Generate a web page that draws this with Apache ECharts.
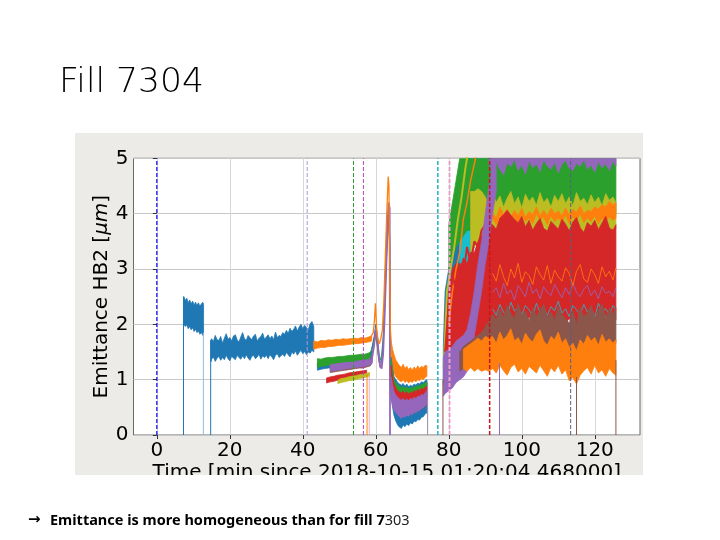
<!DOCTYPE html>
<html><head><meta charset="utf-8">
<script src="https://cdn.jsdelivr.net/npm/echarts@6/dist/echarts.min.js"></script>
<style>
html,body{margin:0;padding:0;background:#fff;}
#wrap{position:relative;width:720px;height:540px;overflow:hidden;}
#beige{position:absolute;left:75px;top:133px;width:568px;height:342px;background:#EDEBE7;}
#chart{position:absolute;left:0;top:0;width:720px;height:540px;}
</style></head><body>
<div id="wrap"><div id="beige"></div><div id="chart"></div></div>
<script>
// ---------- tick labels ----------
const xTicks = [0, 20, 40, 60, 80, 100, 120];
const yTicks = [0, 1, 2, 3, 4, 5];

// ---------- segment A: first blue block ----------
const tA = [7.4,7.8,8.2,8.6,9.0,9.4,9.8,10.2,10.6,11.0,11.4,11.8,12.2,12.6,12.8];
const blueA_hi = [2.50,2.43,2.47,2.39,2.44,2.37,2.42,2.35,2.40,2.34,2.39,2.32,2.37,2.40,2.35];
const blueA_lo = [2.00,1.96,1.99,1.92,1.96,1.90,1.94,1.87,1.91,1.85,1.88,1.82,1.85,1.80,1.84];

// ---------- segment B: long blue block ----------
const tB = [14.8,15,15.5,16,16.5,17,17.5,18,18.5,19,19.5,20,20.5,21,21.5,22,22.5,23,23.5,24,24.5,25,25.5,26,26.5,27,27.5,28,28.5,29,29.5,30,30.5,31,31.5,32,32.5,33,33.5,34,34.5,35,35.5,36,36.5,37,37.5,38,38.5,39,39.5,40,40.5,41,41.5,42,42.5,43];
const blueB_hi = [1.70,
 1.74,1.69,1.80,1.72,1.71,1.78,1.66,1.75,1.83,1.73,
 1.76,1.70,1.79,1.81,1.72,1.68,1.77,1.85,1.74,1.71,
 1.80,1.76,1.72,1.79,1.82,1.70,1.75,1.78,1.84,1.73,
 1.77,1.81,1.74,1.79,1.72,1.86,1.76,1.80,1.78,1.85,
 1.82,1.89,1.84,1.93,1.87,1.91,1.97,1.88,1.95,2.00,
 1.92,1.98,1.94,1.90,2.01,2.05,1.96];
const blueB_lo = [1.32,
 1.37,1.41,1.33,1.39,1.42,1.35,1.40,1.36,1.44,1.38,
 1.34,1.42,1.39,1.36,1.44,1.40,1.37,1.43,1.38,1.45,
 1.39,1.35,1.42,1.44,1.38,1.41,1.46,1.37,1.43,1.40,
 1.44,1.38,1.45,1.41,1.36,1.44,1.47,1.40,1.43,1.46,
 1.42,1.49,1.45,1.41,1.50,1.46,1.52,1.44,1.49,1.53,
 1.47,1.51,1.45,1.50,1.48,1.53,1.50];

// ---------- segment C: 43 - 59 min ----------
const tO = [43,44,45,46,47,48,49,50,51,52,53,54,55,56,57,58,58.9];
const orangeO_hi = [1.70,1.68,1.71,1.70,1.72,1.71,1.73,1.72,1.74,1.73,1.74,1.75,1.74,1.76,1.75,1.77,1.80];
const orangeO_lo = [1.55,1.57,1.58,1.58,1.60,1.60,1.61,1.62,1.62,1.63,1.64,1.65,1.65,1.66,1.67,1.68,1.70];
const tG = [44,45,46,47,48,49,50,51,52,53,54,55,56,57,58,59];
const green_hi = [1.38,1.37,1.39,1.40,1.40,1.41,1.42,1.42,1.43,1.44,1.44,1.45,1.46,1.46,1.48,1.52];
const green_lo = [1.22,1.24,1.25,1.26,1.27,1.28,1.29,1.30,1.31,1.32,1.33,1.34,1.35,1.36,1.37,1.40];
const teal_hi = [1.30,1.31,1.32,1.33,1.34,1.35,1.36,1.36,1.37,1.38,1.38,1.39,1.40,1.41,1.42,1.45];
const teal_lo = [1.17,1.19,1.20,1.21,1.22,1.23,1.24,1.25,1.26,1.27,1.28,1.29,1.30,1.31,1.32,1.35];
const tP = [47.5,48.5,49.5,50.5,51.5,52.5,53.5,54.5,55.5,56.5,57.5,58.5,59];
const purpleP_hi = [1.27,1.28,1.29,1.30,1.31,1.31,1.32,1.33,1.34,1.35,1.36,1.38,1.45];
const purpleP_lo = [1.15,1.16,1.17,1.18,1.19,1.20,1.21,1.22,1.23,1.23,1.25,1.27,1.32];
const brownP_hi = [1.24,1.25,1.26,1.27,1.28,1.28,1.29,1.30,1.31,1.32,1.33,1.35,1.40];
const brownP_lo = [1.13,1.14,1.15,1.16,1.17,1.18,1.19,1.20,1.21,1.21,1.23,1.25,1.30];
const tR = [46.5,47.5,48.5,49.5,50.5,51.5,52.5,53.5,54.5,55.5,56.5,57.5];
const red_hi = [1.03,1.05,1.06,1.08,1.09,1.10,1.12,1.13,1.14,1.15,1.16,1.17];
const red_lo = [0.94,0.96,0.97,0.99,1.00,1.02,1.03,1.05,1.06,1.08,1.09,1.11];
const tY = [49.6,50.5,51.5,52.5,53.5,54.5,55.5,56.5,57.5,58.3];
const olive_hi = [0.99,1.02,1.03,1.05,1.06,1.07,1.09,1.10,1.11,1.13];
const olive_lo = [0.93,0.95,0.96,0.98,0.99,1.00,1.02,1.03,1.05,1.06];

// ---------- spikes 58 - 64 min ----------
const tS1 = [58.9,59.3,59.6,59.9,60.2,60.6,61.0,61.4,61.8,62.2,62.6,63.0,63.4,63.6,63.8,64.0,64.2];
const orangeSpike = [1.80,1.85,2.05,2.38,1.95,1.72,1.65,1.75,1.90,2.40,3.20,4.00,4.67,4.50,3.20,1.90,1.70];
const tS2 = [58.5,59.0,59.5,60.0,60.4,60.8,61.2,61.6,62.0,62.4,62.8,63.2,63.5,63.8,63.9];
const brownSpike  = [1.35,1.45,1.65,1.80,1.60,1.35,1.22,1.28,1.55,2.20,3.00,3.60,3.90,3.40,1.20];
const greenSpike  = [1.48,1.60,1.75,1.85,1.65,1.40,1.35,1.45,1.75,2.50,3.30,3.95,4.00,3.50,1.30];
const blueSpike   = [1.42,1.55,1.75,2.00,1.80,1.50,1.30,1.35,1.65,2.30,3.10,3.80,4.10,3.60,1.40];
const purpleSpike = [1.30,1.40,1.60,1.90,1.75,1.45,1.25,1.20,1.45,2.10,2.90,3.70,4.20,4.10,0];

// ---------- segment D: 64 - 74 min ----------
const tD = [64.2,64.6,65,65.5,66,66.5,67,67.5,68,68.5,69,69.5,70,70.5,71,71.5,72,72.5,73,73.5,74];
const orangeD_hi = [1.70,1.55,1.45,1.35,1.30,1.25,1.22,1.28,1.20,1.24,1.18,1.22,1.17,1.23,1.19,1.25,1.20,1.24,1.22,1.26,1.25];
const orangeD_lo = [1.35,1.20,1.12,1.05,1.02,0.98,0.96,1.00,0.95,0.98,0.94,0.97,0.95,0.99,0.96,1.00,0.98,1.02,1.00,1.04,1.06];
const blueD_hi = [1.40,1.20,1.05,1.00,0.95,0.92,0.90,0.93,0.88,0.92,0.87,0.90,0.88,0.92,0.90,0.94,0.92,0.96,0.95,0.98,1.00];
const blueD_lo = [0.70,0.50,0.35,0.25,0.18,0.14,0.12,0.18,0.15,0.20,0.17,0.22,0.20,0.25,0.24,0.28,0.27,0.32,0.33,0.38,0.40];
const greenD_hi = [1.35,1.15,1.00,0.95,0.90,0.88,0.85,0.88,0.84,0.87,0.83,0.86,0.84,0.88,0.86,0.90,0.88,0.92,0.91,0.95,0.97];
const greenD_lo = [0.95,0.80,0.70,0.65,0.60,0.58,0.55,0.58,0.56,0.59,0.57,0.60,0.59,0.62,0.61,0.64,0.63,0.66,0.67,0.70,0.72];
const redD_hi = [1.25,1.05,0.92,0.85,0.80,0.78,0.76,0.79,0.75,0.78,0.74,0.77,0.76,0.80,0.78,0.82,0.80,0.84,0.83,0.86,0.88];
const redD_lo = [0.85,0.65,0.52,0.45,0.40,0.36,0.34,0.37,0.35,0.38,0.36,0.39,0.38,0.42,0.41,0.45,0.44,0.48,0.49,0.52,0.55];
const purpleD_hi = [1.05,0.90,0.78,0.72,0.68,0.65,0.63,0.66,0.62,0.65,0.62,0.66,0.64,0.68,0.66,0.70,0.69,0.73,0.72,0.76,0.80];
const purpleD_lo = [0.65,0.52,0.45,0.40,0.36,0.33,0.30,0.34,0.32,0.36,0.34,0.38,0.37,0.41,0.40,0.44,0.44,0.48,0.49,0.53,0.56];

// ---------- segment E: 78.5 - 125.8 min ----------
const tE = [78.5,79,80,81,82,83,84,85,86,87,88,89,90,91,92,93,94,95,96,97,98,99,100,101,102,103,104,105,106,107,108,109,110,111,112,113,114,115,116,117,118,119,120,121,122,123,124,125,125.8];
const blueE_hi = [1.6,2.6,3.0,3.4,3.8,4.4,4.8,5,5,5,5,5,5,5,5];
const blueE_lo = [0.9,1.1,1.4,1.6,2.0,2.2,2.6,2.8,3.2,3.4,3.8,4.0,4.3,4.4,4.5];
const cyanE_hi = [3.9,4.5,5,5,5,5,5,5,5];
const cyanE_lo = [2.7,2.9,3.1,3.4,3.5,3.9,4.2,4.4,4.6];
const greenE_hi = [3.8,4.2,4.6,5,5,5,5,5,5,5,
 5,5,5,5,5,5,5,5,5,5,5,5,5,5,5,5,5,5,5,5,5,5,5,5,5,5,5,5,5,5,5,5,5,5,5,5,5];
const greenE_lo = [3.0,3.2,3.4,3.5,3.6,3.7,3.7,3.75,3.8,3.8,
 3.85,4.0,3.8,4.05,3.9,4.1,3.85,4.0,3.8,4.05,3.9,3.85,4.1,3.9,4.0,3.8,4.05,3.9,4.1,3.85,4.0,3.9,4.1,3.8,4.0,3.9,4.05,3.85,4.0,3.9,4.1,3.85,4.0,3.9,4.1,3.95,4.0];
const purpleTop_lo = [4.90,4.75,4.95,4.80,4.70,4.92,4.85,4.98,4.78,4.88,4.72,4.95,4.83,4.90,4.76,4.97,4.86,4.80,
 4.93,4.74,4.89,4.96,4.82,4.78,4.91,4.85,4.97,4.80,4.88,4.75,4.94,4.83,4.90,4.78,4.95,4.86];
const purpleTop_hi = [5,5,5,5,5,5,5,5,5,5,5,5,5,5,5,5,5,5,5,5,5,5,5,5,5,5,5,5,5,5,5,5,5,5,5,5];
const oliveE_lo = [3.3,3.4,3.5,3.55,
 3.70,3.60,3.75,3.62,3.80,3.65,3.72,3.58,3.78,3.64,3.70,3.60,3.76,3.66,3.72,3.58,3.80,3.62,
 3.70,3.65,3.75,3.60,3.78,3.64,3.70,3.58,3.76,3.66,3.72,3.60,3.78,3.64,3.70,3.62,3.76,3.68,3.72];
const oliveE_hi = [4.4,4.4,4.45,4.4,
 4.30,4.15,4.38,4.20,4.32,4.12,4.28,4.40,4.18,4.30,4.10,4.35,4.22,4.30,4.15,4.38,4.20,4.28,
 4.12,4.33,4.22,4.36,4.18,4.30,4.14,4.38,4.22,4.28,4.16,4.34,4.20,4.30,4.14,4.36,4.24,4.30,4.20];
const orangeMid_lo = [3.92,3.80,3.98,3.86,4.00,3.84,3.94,3.80,3.98,3.86,3.92,3.82,4.00,3.88,3.94,3.80,3.96,3.86,
 3.92,3.84,3.98,3.82,3.94,3.88,4.00,3.84,3.92,3.86,3.96,3.82,3.92,3.86,3.94,3.88,3.92];
const orangeMid_hi = [4.02,3.92,4.12,3.98,4.08,3.94,4.06,3.96,4.10,3.94,4.04,3.98,4.12,3.96,4.06,3.96,4.10,4.00,
 4.05,3.96,4.10,3.98,4.08,4.02,4.14,4.00,4.06,4.04,4.12,4.08,4.16,4.12,4.22,4.15,4.20];
const redE_lo = [1.2,1.4,1.5,1.55,1.55,1.6,1.65,1.7,1.75,1.8,1.85,1.9,2.0,
 2.10,2.02,2.15,2.05,2.18,2.08,2.00,2.12,2.06,1.98,2.14,2.04,2.10,2.16,2.00,2.08,2.12,1.98,
 2.06,2.14,2.02,2.10,2.04,1.96,2.12,2.08,2.00,2.14,2.06,2.02,2.10,2.16,2.04,2.00,2.08];
const redE_hi = [2.2,2.6,3.0,3.1,3.0,3.2,3.1,3.3,3.3,3.5,3.6,3.7,3.8,
 3.80,3.72,3.92,3.98,4.06,3.97,3.90,3.83,3.95,3.76,3.88,3.70,3.82,3.91,3.74,3.68,3.86,3.79,
 3.72,3.90,3.81,3.69,3.85,3.93,3.75,3.66,3.84,3.77,3.88,3.71,3.83,3.95,3.74,3.70,3.80];
const orangeStreak = [2.92,2.78,3.08,2.86,2.70,3.00,2.84,3.10,2.76,2.95,2.88,2.72,3.04,2.90,2.80,3.06,2.74,2.98,
 2.86,2.78,3.02,2.92,2.70,2.96,3.08,2.82,2.76,3.00,2.90,2.74,3.04,2.86,2.96,2.80,3.02];
const purpleStreak = [2.58,2.66,2.48,2.74,2.55,2.62,2.44,2.70,2.60,2.50,2.76,2.56,2.64,2.46,2.68,2.58,2.52,2.72,
 2.60,2.48,2.66,2.54,2.74,2.58,2.50,2.64,2.70,2.52,2.62,2.46,2.68,2.56,2.60,2.50,2.66];
const cyanStreak = [2.28,2.16,2.36,2.22,2.12,2.40,2.24,2.30,2.18,2.34,2.26,2.14,2.38,2.22,2.30,2.16,2.32,2.24,
 2.42,2.20,2.28,2.14,2.34,2.26,2.18,2.36,2.22,2.30,2.12,2.38,2.24,2.28,2.18,2.34,2.26];
const tRise1 = [78.6,79.5,80.5,81.5,82.5,83.5,84.5,85.5];
const oliveRise = [1.2,2.6,3.0,3.4,3.9,4.3,4.8,5.2];
const tRise2 = [79,80,81,82,83,84,85,86,87,88,89,90];
const redRise = [1.5,2.4,2.9,2.6,3.1,2.9,3.4,3.1,3.5,3.4,3.7,3.8];
const tRise3 = [80,81,82,83,84,85,86,87,88];
const orangeRise = [2.0,2.6,3.0,3.3,3.9,4.2,4.6,4.9,5.2];
const purpleDiag_hi = [1.40,1.50,1.55,1.60,1.70,1.75,1.80,1.90,2.20,2.60,3.10,3.50,4.00,4.50,4.90,5.00];
const purpleDiag_lo = [0.70,0.75,0.80,0.85,0.95,1.00,1.05,1.15,1.40,1.80,2.20,2.60,3.10,3.50,4.00,4.40];
const brownE_lo = [1.15,1.20,1.25,1.30,1.35,1.40,1.45,1.50,1.55,
 1.62,1.55,1.68,1.58,1.65,1.56,1.70,1.60,1.66,1.55,1.68,1.58,1.64,1.54,1.68,1.60,1.66,1.56,
 1.70,1.58,1.64,1.52,1.60,1.50,1.62,1.58,1.66,1.55,1.68,1.60,1.65,1.56,1.70,1.60,1.66];
const brownE_hi = [1.50,1.60,1.65,1.70,1.75,1.80,1.85,1.95,2.05,
 2.18,2.08,2.28,2.12,2.34,2.20,2.10,2.38,2.16,2.24,2.06,2.30,2.14,2.26,2.36,2.12,2.22,2.08,
 2.32,2.18,2.10,2.02,2.24,2.00,2.30,2.14,2.20,2.34,2.10,2.26,2.36,2.12,2.28,2.18,2.30];
const orangeLow_lo = [1.20,1.15,1.22,1.15,1.20,1.15,1.18,1.15,
 1.20,1.12,1.26,1.16,1.08,1.22,1.28,1.14,1.20,1.10,1.24,1.18,1.12,1.26,1.16,1.06,1.22,1.14,
 1.26,1.10,1.18,0.98,1.04,0.92,1.08,1.16,1.22,1.10,1.26,1.12,1.18,1.06,1.20,1.12,1.08];
const orangeLow_hi = [1.55,1.60,1.65,1.70,1.75,1.70,1.78,1.75,
 1.78,1.66,1.86,1.72,1.80,1.92,1.70,1.76,1.64,1.84,1.74,1.68,1.82,1.90,1.70,1.62,1.78,1.72,
 1.86,1.66,1.74,1.58,1.66,1.52,1.72,1.64,1.80,1.70,1.76,1.62,1.82,1.68,1.74,1.66,1.72];

// ---------- vertical drops to zero (solid) ----------
const dropT = [7.3, 12.75, 14.75, 57.6, 58.2, 74.2, 78.4, 93.9, 115.0, 125.8];
const dropV = [2.50, 1.85, 1.72, 1.10, 1.08, 0.95, 1.00, 1.30, 1.05, 1.35];
// ---------- dashed markers ----------
const vT = [0, 41.2, 53.9, 56.6, 77.0, 80.2, 91.2, 113.4];

// ---------- styles ----------
const C = {blue:'#1f77b4', orange:'#ff7f0e', green:'#2ca02c', red:'#d62728', purple:'#9467bd',
  brown:'#8c564b', pink:'#e377c2', gray:'#7f7f7f', olive:'#bcbd22', cyan:'#17becf'};
const dropColors = [C.blue, '#8fbcdc', C.blue, C.orange, '#f0a8c8', '#9a88aa', C.brown, C.purple, C.brown, C.brown];
const vColors = ['#0000ee', '#a898d8', '#2e9a2e', '#b048b0', '#20b4c4', '#eaa0c8', '#c8141c', '#566080'];
const vWidths = [1.2, 1, 1, 1, 1.5, 2, 1.5, 1];

function band(t, lo, hi, color) {
  return {type:'custom', coordinateSystem:'cartesian2d', clip:true, silent:true, animation:false,
    data:[[t[0], lo[0]]],
    renderItem: function (params, api) {
      const pts = [];
      for (let i = 0; i < hi.length; i++) pts.push(api.coord([t[i], hi[i]]));
      for (let j = lo.length - 1; j >= 0; j--) pts.push(api.coord([t[j], lo[j]]));
      return {type:'polygon', shape:{points:pts}, style:{fill:color, stroke:color, lineWidth:0.8}};
    }};
}
function line(t, v, color, width, dash) {
  return {type:'line', silent:true, animation:false, showSymbol:false, symbol:'none', clip:true,
    data: v.map((y, i) => [t[i], y]),
    lineStyle:{color:color, width:width || 1, type: dash || 'solid'}};
}

const series = [];
series.push(band(tA, blueA_lo, blueA_hi, C.blue));
series.push(band(tB, blueB_lo, blueB_hi, C.blue));
series.push(band(tO, orangeO_lo, orangeO_hi, C.orange));
series.push(band(tG, teal_lo, teal_hi, C.blue));
series.push(band(tG, green_lo, green_hi, C.green));
series.push(band(tP, brownP_lo, brownP_hi, C.brown));
series.push(band(tP, purpleP_lo, purpleP_hi, C.purple));
series.push(band(tR, red_lo, red_hi, C.red));
series.push(band(tY, olive_lo, olive_hi, C.olive));
series.push(line(tS2, brownSpike, C.brown, 1));
series.push(line(tS2, greenSpike, C.green, 1));
series.push(line(tS2, blueSpike, C.blue, 1));
series.push(line(tS2, purpleSpike, C.purple, 1.8));
series.push(line(tS1, orangeSpike, C.orange, 1.3));
series.push(band(tD, orangeD_lo, orangeD_hi, C.orange));
series.push(band(tD, blueD_lo, blueD_hi, C.blue));
series.push(band(tD, greenD_lo, greenD_hi, C.green));
series.push(band(tD, redD_lo, redD_hi, C.red));
series.push(band(tD, purpleD_lo, purpleD_hi, C.purple));
series.push(band(tE.slice(0, 15), blueE_lo, blueE_hi, C.blue));
series.push(band(tE.slice(5, 14), cyanE_lo, cyanE_hi, C.cyan));
series.push(band(tE.slice(2), greenE_lo, greenE_hi, C.green));
series.push(band(tE.slice(13), purpleTop_lo, purpleTop_hi, C.purple));
series.push(band(tE.slice(8), oliveE_lo, oliveE_hi, C.olive));
series.push(band(tE.slice(14), orangeMid_lo, orangeMid_hi, C.orange));
series.push(band(tE.slice(1), redE_lo, redE_hi, C.red));
series.push(line(tE.slice(14), cyanStreak, C.cyan, 0.8));
series.push(line(tE.slice(14), purpleStreak, C.purple, 0.8));
series.push(line(tE.slice(14), orangeStreak, C.orange, 0.8));
series.push(line(tRise1, oliveRise, C.olive, 2));
series.push(line(tRise3, orangeRise, C.orange, 1.5));
series.push(line(tRise2, redRise, C.red, 2));
series.push(band(tE.slice(0, 16), purpleDiag_lo, purpleDiag_hi, C.purple));
series.push(band(tE.slice(5), brownE_lo, brownE_hi, C.brown));
series.push(band(tE.slice(6), orangeLow_lo, orangeLow_hi, C.orange));
dropT.forEach((x, i) => series.push(line([x, x], [0, dropV[i]], dropColors[i], 1)));
vT.forEach((x, i) => series.push(line([x, x], [0, 5], vColors[i], vWidths[i], [4, 2])));
series.forEach((s, i) => { s.z = 2 + i * 0.01; });

const axisFont = {fontFamily:'DejaVu Sans', fontSize:20, color:'#000'};
const chart = echarts.init(document.getElementById('chart'), null, {renderer:'canvas'});
chart.setOption({
  backgroundColor:'transparent',
  animation:false,
  grid:{left:133.5, right:80, top:158.3, bottom:105, show:true, backgroundColor:'#fff', borderColor:'#6a6a6a', borderWidth:1},
  xAxis:{type:'value', min:-6.4, max:132.4,
    axisLine:{show:false},
    axisTick:{show:true, length:4, customValues:xTicks, lineStyle:{color:'#333'}},
    axisLabel:Object.assign({customValues:xTicks, margin:6}, axisFont),
    splitLine:{show:true, lineStyle:{color:'#d6d6d6', width:1}},
    name:'Time [min since 2018-10-15 01:20:04.468000]', nameLocation:'middle', nameGap:28, nameMoveOverlap:false,
    nameTextStyle:axisFont},
  yAxis:{type:'value', min:0, max:5, interval:1,
    axisLine:{show:false},
    axisTick:{show:true, length:4, lineStyle:{color:'#333'}},
    axisLabel:Object.assign({margin:5, formatter: v => yTicks.indexOf(v) >= 0 ? String(v) : ''}, axisFont),
    splitLine:{show:true, lineStyle:{color:'#c8c8c8', width:1}},
    name:'Emittance HB2 [{i|μm}]', nameLocation:'middle', nameGap:22, nameRotate:90, nameMoveOverlap:false,
    nameTextStyle:Object.assign({rich:{i:{fontFamily:'DejaVu Sans', fontSize:20, fontStyle:'italic', color:'#000'}}}, axisFont)},
  series: series,
  graphic:[
    {type:'rect', z:100, shape:{x:0, y:475, width:720, height:30}, style:{fill:'#fff'}},
    {type:'text', z:101, left:59, top:66, style:{text:'Fill 7304', font:'200 34.5px "DejaVu Sans"', fill:'#000'}},
    {type:'text', z:101, left:28, top:513, style:{text:'→', font:'bold 15px "DejaVu Sans"', fill:'#000'}},
    {type:'text', z:101, left:50, top:513, style:{text:'{b|Emittance is more homogeneous than for fill 7}{c|303}',
      rich:{b:{font:'bold 14.5px "Noto Sans"', fill:'#000'}, c:{font:'14.5px "Noto Sans"', fill:'#222'}}}}
  ]
});
</script>
</body></html>
